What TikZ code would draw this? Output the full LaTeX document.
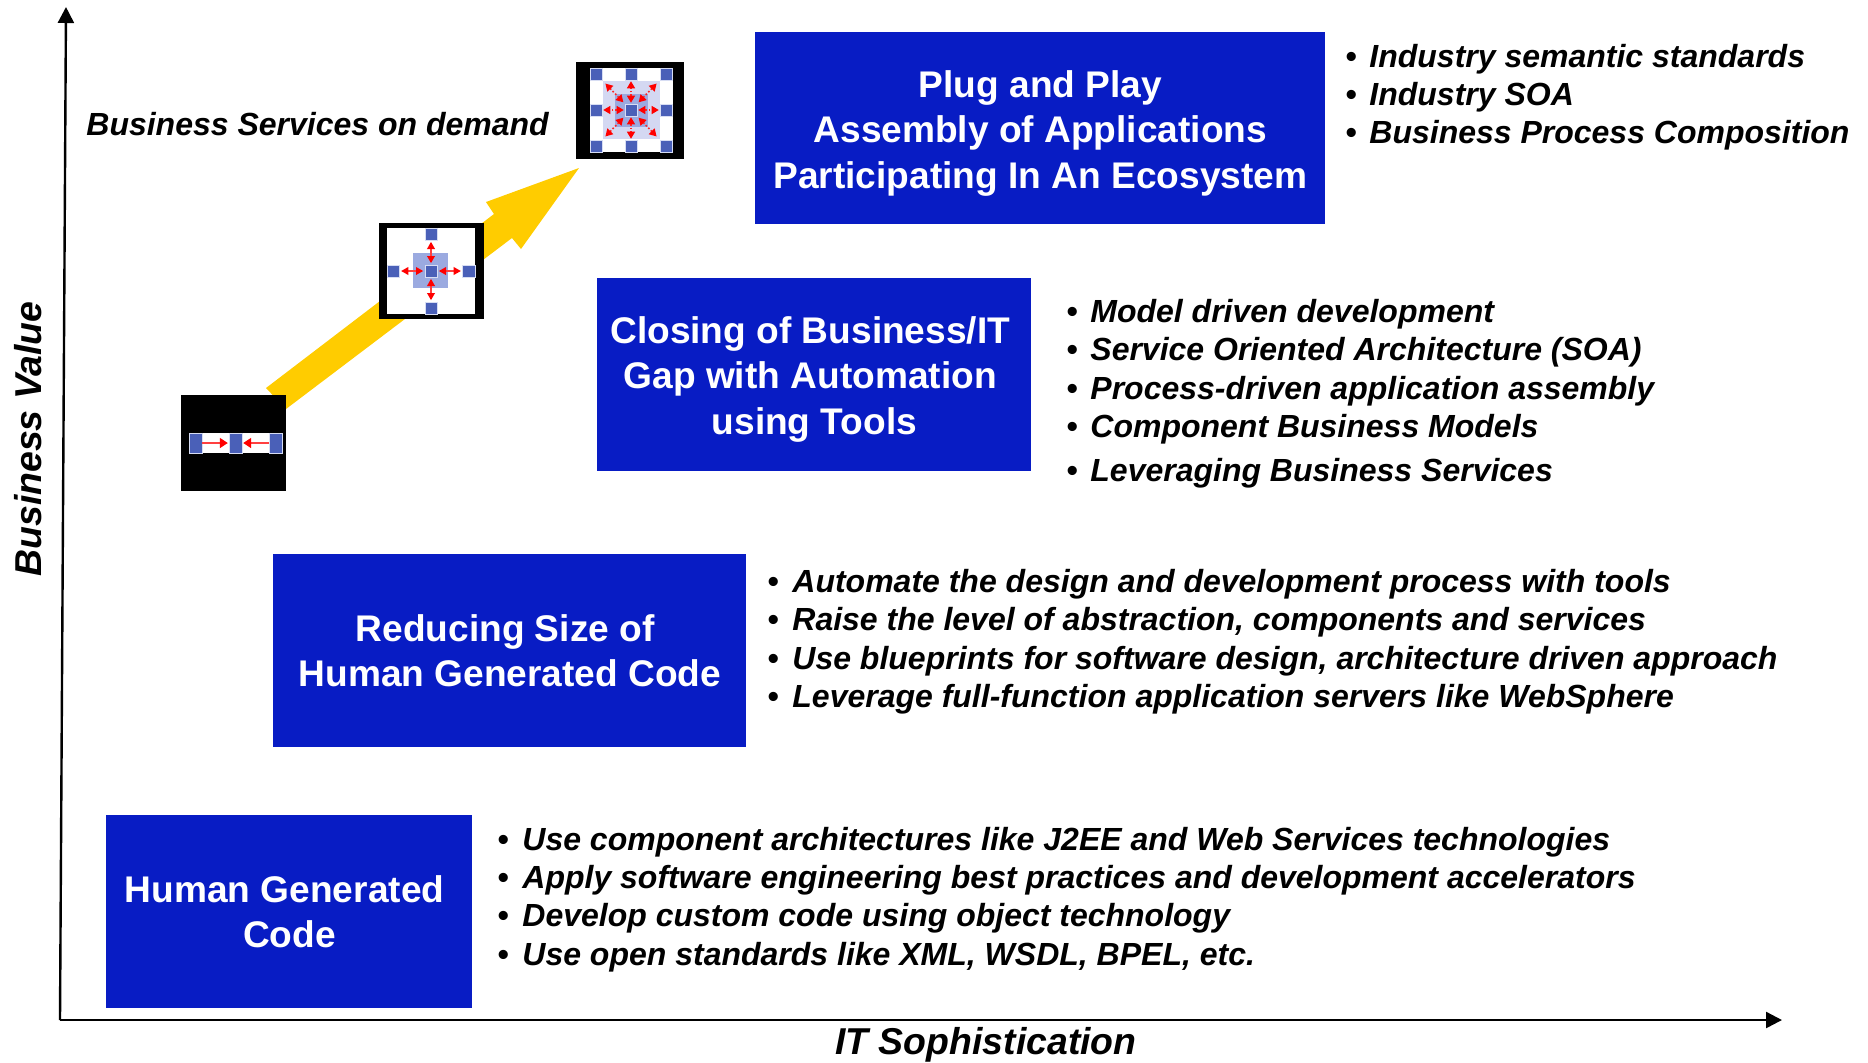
\documentclass[tikz,border=0pt]{standalone}
\usepackage{fontspec}
\setmainfont{Liberation Sans}
\usetikzlibrary{arrows.meta}
\definecolor{boxblue}{RGB}{8,28,196}
\definecolor{gold}{RGB}{255,204,0}
\definecolor{sqblue}{RGB}{74,96,184}
\definecolor{midblue}{RGB}{155,170,224}
\definecolor{paleblue}{RGB}{212,216,242}
\newcommand{\listfont}{\fontsize{16}{20}\selectfont\bfseries\itshape}
\newcommand{\boxfont}{\fontsize{18.55}{22.6}\selectfont\bfseries}
\newcommand{\padr}[1]{\hspace{#1}\mbox{}}
\tikzset{
  x=0.5pt,y=0.5pt,
  stage/.style={fill=boxblue,text=white,font=\boxfont,align=center,inner sep=0pt,anchor=north west},
  item/.style={font=\listfont,anchor=west,inner sep=0pt,text=black,text height=11.5pt,text depth=3.5pt,yshift=-1.8pt},
  dotitem/.style={font=\listfont,anchor=center,inner sep=0pt,text=black,yshift=-1.8pt},
  axislabel/.style={font=\fontsize{18.7}{22}\selectfont\bfseries\itshape,inner sep=0pt},
  axisline/.style={draw=black,line width=1.2pt,-{Triangle[length=8pt,width=8pt]}},
  sq/.style={fill=sqblue,draw=midblue!40,line width=0.25pt,inner sep=0pt,outer sep=0pt,minimum width=#1,minimum height=#1},
  sq/.default=6.2pt,
  dart/.style={draw=red!75!white,line width=0.8pt,{Triangle[length=3.6pt,width=3.8pt,color=red]}-{Triangle[length=3.6pt,width=3.8pt,color=red]},shorten >=0.8pt,shorten <=0.8pt},
  dartone/.style={draw=red!75!white,line width=0.8pt,-{Triangle[length=4pt,width=5pt,color=red]},shorten >=0.6pt},
  dotdart/.style={draw=red!85!white,line width=0.8pt,densely dotted,{Triangle[length=3.6pt,width=4pt,color=red]}-{Triangle[length=3.6pt,width=4pt,color=red]},shorten >=0.7pt,shorten <=0.7pt},
  diagdart/.style={dotdart,shorten >=2.6pt,shorten <=1.3pt},
}
\begin{document}
\begin{tikzpicture}
\useasboundingbox (0,0) rectangle (1868,-1062);
% axes
\coordinate (origin) at (60,-1020);
\coordinate (ytop) at (66,-7);
\coordinate (xend) at (1782,-1020);
\draw[axisline] (origin) -- (ytop);
\draw[axisline] (origin) -- (xend);
\node[axislabel,rotate=90] (yl) at (28,-439) {Business Value};
\node[axislabel] (xl) at (986,-1045) {IT Sophistication};
% big arrow
\fill[gold] (266,-388) -- (494,-214) -- (486,-202) -- (579,-168) -- (521,-249) -- (512,-238) -- (286,-409) -- cycle;
% stages
\node[stage,minimum width=285pt,minimum height=96pt] (s4) at (755,-32) {\rule{0pt}{18.5pt}Plug and Play\\Assembly of Applications\\Participating In An Ecosystem};
\node[stage,minimum width=217pt,minimum height=96.5pt] (s3) at (597,-278) {\rule{0pt}{18pt}Closing of Business/IT\padr{4.2pt}\\Gap with Automation\padr{4.2pt}\\using Tools};
\node[stage,minimum width=236.5pt,minimum height=96.5pt] (s2) at (273,-554) {Reducing Size of\padr{4.8pt}\\Human Generated Code};
\node[stage,minimum width=183pt,minimum height=96.5pt] (s1) at (106,-815) {Human Generated\padr{4.8pt}\\Code};
% list 4
\foreach \n/\y/\t in {a/56/Industry semantic standards,b/94/Industry SOA,c/132/Business Process Composition}{
  \node[dotitem] (d4\n) at (1351,-\y) {•};
  \node[item] (t4\n) at (1369,-\y) {\t};
}
% list 3
\foreach \n/\y/\t in {a/311/Model driven development,b/349/Service Oriented Architecture (SOA),c/388/Process-driven application assembly,d/426/Component Business Models,e/470/Leveraging Business Services}{
  \node[dotitem] (d3\n) at (1072,-\y) {•};
  \node[item] (t3\n) at (1090,-\y) {\t};
}
% list 2
\foreach \n/\y/\t in {a/581/Automate the design and development process with tools,b/619/Raise the level of abstraction{,} components and services,c/658/Use blueprints for software design{,} architecture driven approach,d/696/Leverage full-function application servers like WebSphere}{
  \node[dotitem] (d2\n) at (773,-\y) {•};
  \node[item] (t2\n) at (792,-\y) {\t};
}
% list 1
\foreach \n/\y/\t in {a/839/Use component architectures like J2EE and Web Services technologies,b/877/Apply software engineering best practices and development accelerators,c/915/Develop custom code using object technology,d/954/Use open standards like XML{,} WSDL{,} BPEL{,} etc.}{
  \node[dotitem] (d1\n) at (503,-\y) {•};
  \node[item] (t1\n) at (522,-\y) {\t};
}
\node[item] (bsd) at (86,-124) {Business Services on demand};
% icon 1
\fill[black] (181,-395) rectangle (286,-491);
\fill[white] (189,-433) rectangle (282,-453);
\node[sq,minimum width=6.5pt,minimum height=10pt] (i1l) at (195.5,-443) {};
\node[sq,minimum width=6.5pt,minimum height=10pt] (i1m) at (235.5,-443) {};
\node[sq,minimum width=6.5pt,minimum height=10pt] (i1r) at (275.5,-443) {};
\draw[dartone] (i1l) -- (i1m);
\draw[dartone] (i1r) -- (i1m);
% icon 2
\fill[black] (379,-223) rectangle (484,-319);
\fill[white] (387,-228) rectangle (475,-314);
\fill[midblue] (413,-253) rectangle (448,-288);
\node[sq] (i2c) at (431,-271) {};
\node[sq] (i2t) at (431,-234) {};
\node[sq] (i2b) at (431,-308) {};
\node[sq] (i2l) at (393.3,-271) {};
\node[sq] (i2r) at (468.7,-271) {};
\draw[dart] (i2c) -- (i2t);
\draw[dart] (i2c) -- (i2b);
\draw[dart] (i2c) -- (i2l);
\draw[dart] (i2c) -- (i2r);
% icon 3
\fill[black] (576,-62) rectangle (684,-159);
\fill[white] (590,-68) rectangle (673,-152);
\fill[paleblue] (603,-81) rectangle (660,-139);
\fill[midblue] (615,-93.5) rectangle (647.5,-126.5);
\node[sq=5.8pt] (i3c) at (631,-110) {};
\node[sq=5.8pt] (i3t) at (631,-74) {};
\node[sq=5.8pt] (i3b) at (631,-146) {};
\node[sq=5.8pt] (i3l) at (596,-110) {};
\node[sq=5.8pt] (i3r) at (666,-110) {};
\node[sq=5.8pt] (i3tl) at (596,-74) {};
\node[sq=5.8pt] (i3tr) at (666,-74) {};
\node[sq=5.8pt] (i3bl) at (596,-146) {};
\node[sq=5.8pt] (i3br) at (666,-146) {};
\draw[dotdart] (i3c) -- (i3t);
\draw[dotdart] (i3c) -- (i3b);
\draw[dotdart] (i3c) -- (i3l);
\draw[dotdart] (i3c) -- (i3r);
\draw[diagdart] (i3c.north west) -- (i3tl.south east);
\draw[diagdart] (i3c.north east) -- (i3tr.south west);
\draw[diagdart] (i3c.south west) -- (i3bl.north east);
\draw[diagdart] (i3c.south east) -- (i3br.north west);
\end{tikzpicture}
\end{document}
